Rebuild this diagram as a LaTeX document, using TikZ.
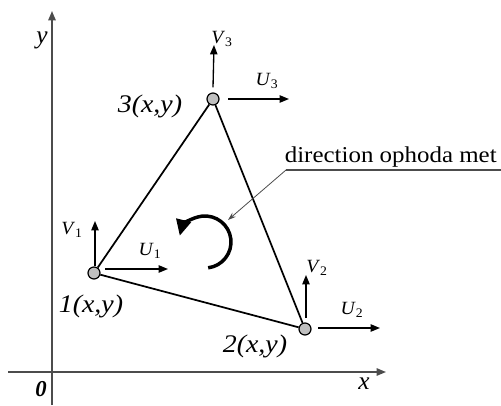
\documentclass[tikz,border=0pt]{standalone}
\usepackage{fontspec}
\setmainfont{Liberation Serif}
\usetikzlibrary{arrows.meta}
\begin{document}
\begin{tikzpicture}[x=0.75pt,y=-0.75pt,
  axis/.style={draw=black!70, line width=1.2pt, -{Triangle[length=7pt,width=5.5pt]}},
  edge/.style={draw=black, line width=1.3pt},
  vel/.style={draw=black, line width=1pt, -{Triangle[length=7pt,width=5.5pt]}},
  pt/.style={circle, draw=black, line width=0.9pt, fill=black!25, minimum size=9pt, inner sep=0pt},
  big/.style={font=\fontsize{19}{22}\selectfont\itshape, inner sep=0pt, xscale=1.1, transform shape},
  small/.style={font=\fontsize{14}{16}\selectfont, inner sep=0pt, xscale=1.05, transform shape},
  axlab/.style={font=\fontsize{19}{21}\selectfont\itshape, inner sep=0pt}]
\useasboundingbox (0,0) rectangle (501,405);
% axes
\coordinate (xs) at (8,372);
\coordinate (xe) at (386,372);
\coordinate (ys) at (52,405);
\coordinate (ye) at (52,11);
\draw[axis] (xs) -- (xe);
\draw[axis] (ys) -- (ye);
\node[axlab] (ylab) at (42,40) {y};
\node[axlab] (xlab) at (364,384) {x};
\node[font=\fontsize{17}{19}\selectfont\bfseries\itshape, inner sep=0pt] (zero) at (41,389) {0};
% points
\node[pt] (n1) at (94,273) {};
\node[pt] (n2) at (305,329) {};
\node[pt] (n3) at (213,99) {};
\draw[edge] (n1) -- (n3) -- (n2) -- (n1);
% velocity arrows
\coordinate (v1) at (95,221);
\coordinate (u1s) at (105,269);
\coordinate (u1) at (168,269);
\draw[vel] (95,266) -- (v1);
\draw[vel] (u1s) -- (u1);
\coordinate (v2) at (306,275);
\coordinate (u2s) at (318,328);
\coordinate (u2) at (380,328);
\draw[vel] (306,318) -- (v2);
\draw[vel] (u2s) -- (u2);
\coordinate (v3) at (214,45);
\coordinate (u3s) at (228,99);
\coordinate (u3) at (289,99);
\draw[vel] (n3.north) ++(0,-5) -- (v3);
\draw[vel] (u3s) -- (u3);
% velocity labels
\node[small] (lv1) at (72,230) {\textit{V}\textsubscript{1}};
\node[small] (lu1) at (150,251) {\textit{U}\textsubscript{1}};
\node[small] (lv2) at (317,268) {\textit{V}\textsubscript{2}};
\node[small] (lu2) at (352,310) {\textit{U}\textsubscript{2}};
\node[small] (lv3) at (222,39) {\textit{V}\textsubscript{3}};
\node[small] (lu3) at (267,81) {\textit{U}\textsubscript{3}};
% point labels
\node[big] (l1) at (91,306) {1(x,y)};
\node[big] (l2) at (255,346) {2(x,y)};
\node[big] (l3) at (150,106) {3(x,y)};
% rotation arrow
\coordinate (c) at (205,242);
\draw[line width=2.6pt, -{Triangle[length=12pt,width=11pt]}] ([shift={(83:26)}]c) arc[start angle=83, end angle=-166, radius=26];
% annotation
\node[font=\fontsize{17}{20}\selectfont, inner sep=0pt, anchor=base east, xscale=1.1, transform shape] (dir) at (497,162) {direction ophoda met};
\coordinate (ul) at (286,170);
\coordinate (ur) at (501,170);
\coordinate (tip) at (228,220);
\draw[black!70, line width=0.8pt] (ur) -- (ul);
\draw[black!70, line width=0.6pt, -{Stealth[length=6pt,width=4pt]}] (ul) -- (tip);
\end{tikzpicture}
\end{document}
